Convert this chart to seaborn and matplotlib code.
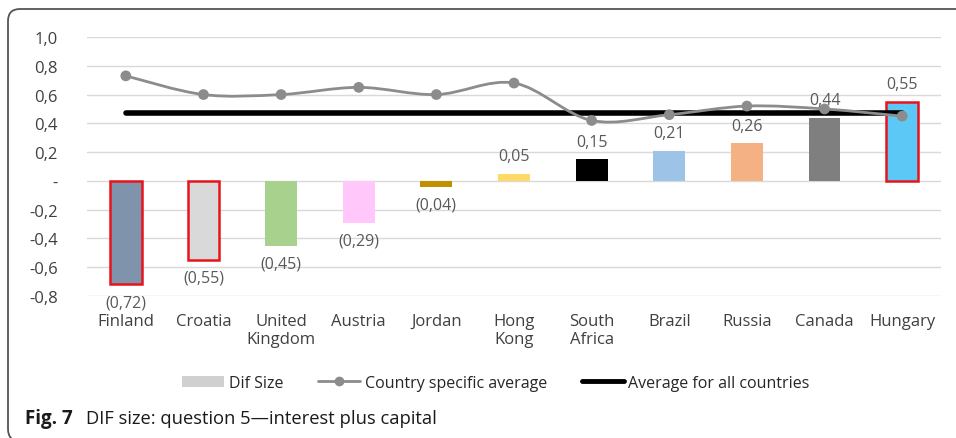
import numpy as np
import pandas as pd
import matplotlib
matplotlib.use("Agg")
import matplotlib.pyplot as plt
import seaborn as sns
from matplotlib.path import Path
from matplotlib.patches import PathPatch, FancyBboxPatch, Patch
from matplotlib.lines import Line2D

countries = ["Finland", "Croatia", "United\nKingdom", "Austria", "Jordan", "Hong\nKong",
             "South\nAfrica", "Brazil", "Russia", "Canada", "Hungary"]
dif_size = [-0.72, -0.55, -0.45, -0.29, -0.04, 0.05, 0.15, 0.21, 0.26, 0.44, 0.55]
country_avg = [0.73, 0.60, 0.60, 0.65, 0.60, 0.68, 0.42, 0.46, 0.52, 0.50, 0.45]
overall_avg = 0.47
bar_colors = ["#7f93ad", "#d9d9d9", "#a9d18e", "#ffc7fa", "#bf9000", "#ffd966",
              "#000000", "#9dc3e6", "#f4b183", "#7f7f7f", "#5bc8f5"]
flagged = ["Finland", "Croatia", "Hungary"]
ytick_vals = [1.0, 0.8, 0.6, 0.4, 0.2, 0.0, -0.2, -0.4, -0.6, -0.8]

sns.set_theme(style="white")
plt.rcParams["font.family"] = ["Open Sans", "DejaVu Sans"]

W, H = 956, 439
fig = plt.figure(figsize=(W / 100, H / 100), dpi=100)
ax = fig.add_axes([87 / W, (H - 297) / H, (941 - 87) / W, (297 - 38) / H])

df = pd.DataFrame({"country": countries, "dif": dif_size, "avg": country_avg})
sns.barplot(data=df, x="country", y="dif", hue="country", palette=bar_colors,
            legend=False, width=0.41, ax=ax, saturation=1)

for patch, name in zip(ax.patches, countries):
    if name in flagged:
        patch.set_edgecolor("#e8141c")
        patch.set_linewidth(1.8)
    else:
        patch.set_linewidth(0)

txt_col = "#595959"
for i, v in enumerate(dif_size):
    s = f"{abs(v):.2f}".replace(".", ",")
    if v < 0:
        ax.annotate(f"({s})", (i, v), xytext=(0, -7), textcoords="offset points",
                    ha="center", va="top", fontsize=11.5, color=txt_col)
    else:
        ax.annotate(s, (i, v), xytext=(0, 7), textcoords="offset points",
                    ha="center", va="bottom", fontsize=11.5, color=txt_col)

# overall average line
ax.plot([0, len(countries) - 1], [overall_avg, overall_avg], color="black", lw=4,
        solid_capstyle="round", zorder=4)

# smoothed country-specific average line through the data points
xs = np.arange(len(countries), dtype=float)
ys = np.array(country_avg)
verts = [(xs[0], ys[0])]
codes = [Path.MOVETO]
n = len(xs)
for i in range(n - 1):
    p0 = np.array([xs[max(i - 1, 0)], ys[max(i - 1, 0)]])
    p1 = np.array([xs[i], ys[i]])
    p2 = np.array([xs[i + 1], ys[i + 1]])
    p3 = np.array([xs[min(i + 2, n - 1)], ys[min(i + 2, n - 1)]])
    c1 = p1 + (p2 - p0) / 6
    c2 = p2 - (p3 - p1) / 6
    verts += [tuple(c1), tuple(c2), tuple(p2)]
    codes += [Path.CURVE4] * 3
ax.add_patch(PathPatch(Path(verts, codes), fill=False, edgecolor="#8c8c8c", lw=2, zorder=5))
sns.scatterplot(x=xs, y=ys, color="#8c8c8c", s=60, edgecolor="none", zorder=6, ax=ax)

ax.set_xlim(-0.5, len(countries) - 0.5)
ax.set_ylim(-0.8, 1.0)
ax.set_yticks(ytick_vals)
ax.set_yticklabels(["-" if v == 0 else f"{v:.1f}".replace(".", ",") for v in ytick_vals])
ax.tick_params(axis="y", length=0, pad=21, labelsize=12, labelcolor="#404040")
ax.tick_params(axis="x", length=0, pad=12, labelsize=12, labelcolor="#404040")
ax.set_xlabel("")
ax.set_ylabel("")
ax.grid(axis="y", color="#d9d9d9", lw=1)
ax.set_axisbelow(True)
for sp in ax.spines.values():
    sp.set_visible(False)

handles = [
    Patch(facecolor="#d0d0d0", edgecolor="none", label="Dif Size"),
    Line2D([], [], color="#8c8c8c", lw=2, marker="o", markersize=6, label="Country specific average"),
    Line2D([], [], color="black", lw=3.5, label="Average for all countries"),
]
fig.legend(handles=handles, loc="center", bbox_to_anchor=(496 / W, (H - 384) / H), ncol=3,
           frameon=False, fontsize=11.5, handlelength=2.6, handletextpad=0.3,
           columnspacing=2.2, labelcolor="#262626")

# outer rounded frame
frame = FancyBboxPatch((0.08, -0.03), 9.8, 4.32, boxstyle="round,pad=0,rounding_size=0.12",
                       transform=fig.dpi_scale_trans, fill=False, edgecolor="#555555",
                       lw=1.3, clip_on=False)
fig.add_artist(frame)

fig.text(25 / W, (H - 419) / H, "Fig. 7", fontsize=13.5, fontweight="bold", color="#1a1a1a",
         va="center", ha="left")
fig.text(86 / W, (H - 419) / H, "DIF size: question 5\u2014interest plus capital", fontsize=13.2,
         color="#1a1a1a", va="center", ha="left")

fig.savefig("out.png", dpi=100)
